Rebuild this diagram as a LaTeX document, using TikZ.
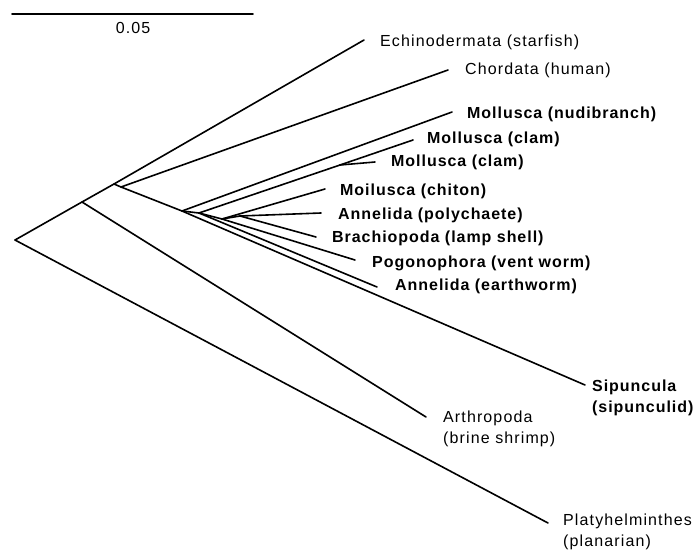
\documentclass[tikz,border=0pt]{standalone}
\usepackage{fontspec}
\setmainfont{Liberation Sans}
\begin{document}
\begin{tikzpicture}[
  x=1pt, y=-1pt,
  branch/.style={line width=1.6pt, line cap=round},
  taxon/.style={anchor=west, inner sep=0pt, align=left,
    font=\fontsize{16}{21}\selectfont\addfontfeature{LetterSpace=7}},
  taxonb/.style={anchor=west, inner sep=0pt, align=left,
    font=\fontsize{16}{21}\selectfont\bfseries\addfontfeature{LetterSpace=6}},
]
  \useasboundingbox (0,0) rectangle (694,552);

  % scale bar
  \coordinate (s0) at (12,14);
  \coordinate (s1) at (253,14);
  \draw[branch] (s0) -- (s1);
  \node[taxon, anchor=center] (scale) at (133,28) {0.05};

  % inner nodes
  \coordinate (root) at ( 15,240);
  \coordinate (n1)   at ( 82,202);
  \coordinate (n2)   at (114,184);
  \coordinate (n3)   at (121,187);
  \coordinate (n4)   at (182,211);
  \coordinate (n5)   at (199,213);
  \coordinate (n6)   at (222,219);
  \coordinate (n7)   at (240,216);
  \coordinate (n8)   at (340,165);

  % tips
  \coordinate (echi) at (364, 40);
  \coordinate (chor) at (448, 70);
  \coordinate (nudi) at (452,112);
  \coordinate (clma) at (413,140);
  \coordinate (clmb) at (375,162);
  \coordinate (chit) at (325,189);
  \coordinate (poly) at (321,213);
  \coordinate (brac) at (316,237);
  \coordinate (pogo) at (355,260);
  \coordinate (eart) at (377,287);
  \coordinate (sipu) at (585,385);
  \coordinate (arth) at (426,417);
  \coordinate (plat) at (548,523);

  \draw[branch] (root) -- (n1);
  \draw[branch] (root) -- (plat);
  \draw[branch] (n1) -- (n2);
  \draw[branch] (n1) -- (arth);
  \draw[branch] (n2) -- (echi);
  \draw[branch] (n2) -- (n3);
  \draw[branch] (n3) -- (chor);
  \draw[branch] (n3) -- (n4);
  \draw[branch] (n4) -- (nudi);
  \draw[branch] (n4) -- (sipu);
  \draw[branch] (n4) -- (n5);
  \draw[branch] (n5) -- (n8);
  \draw[branch] (n8) -- (clma);
  \draw[branch] (n8) -- (clmb);
  \draw[branch] (n5) -- (eart);
  \draw[branch] (n5) -- (n6);
  \draw[branch] (n6) -- (chit);
  \draw[branch] (n6) -- (pogo);
  \draw[branch] (n6) -- (n7);
  \draw[branch] (n7) -- (poly);
  \draw[branch] (n7) -- (brac);

  \node[taxon]  (lechi) at (380, 42) {Echinodermata (starfish)};
  \node[taxon]  (lchor) at (465, 70) {Chordata (human)};
  \node[taxonb] (lnudi) at (467,114) {Mollusca (nudibranch)};
  \node[taxonb] (lclma) at (427,139) {Mollusca (clam)};
  \node[taxonb] (lclmb) at (391,162) {Mollusca (clam)};
  \node[taxonb] (lchit) at (340,191) {Moilusca (chiton)};
  \node[taxonb] (lpoly) at (338,215) {Annelida (polychaete)};
  \node[taxonb] (lbrac) at (332,238) {Brachiopoda (lamp shell)};
  \node[taxonb] (lpogo) at (372,263) {Pogonophora (vent worm)};
  \node[taxonb] (leart) at (395,286) {Annelida (earthworm)};
  \node[taxonb] (lsipu) at (592,398) {Sipuncula\\(sipunculid)};
  \node[taxon]  (larth) at (443,429) {Arthropoda\\(brine shrimp)};
  \node[taxon]  (lplat) at (563,532) {Platyhelminthes\\(planarian)};
\end{tikzpicture}
\end{document}
